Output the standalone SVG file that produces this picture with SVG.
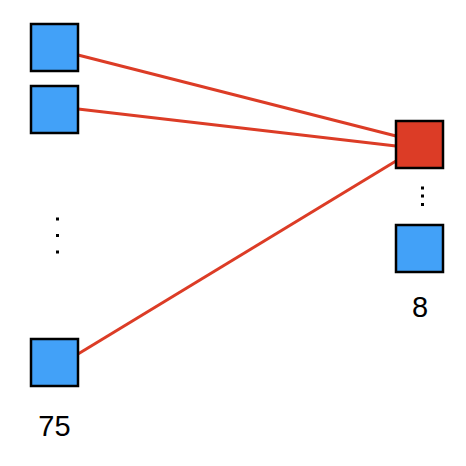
<svg xmlns="http://www.w3.org/2000/svg" width="466" height="466" viewBox="0 0 466 466">
<style>
.node{stroke:#000;stroke-width:2.5}
.blue{fill:#42a1f8}
.red{fill:#dc3c26}
.edge{stroke:#dc3c26;stroke-width:3;fill:none}
.dot{fill:#000}
.lbl{font-family:"Liberation Sans",Arial,sans-serif;font-size:29px;fill:#000;text-anchor:middle}
</style>
<rect width="466" height="466" fill="#fff"/>
<g id="connectors">
<line class="edge" x1="78" y1="55" x2="396" y2="136"/>
<line class="edge" x1="78" y1="109" x2="396" y2="146"/>
<line class="edge" x1="78" y1="354" x2="396" y2="161"/>
</g>
<g id="left1"><rect class="node blue" x="31" y="24" width="47" height="47"/></g>
<g id="left2"><rect class="node blue" x="31" y="86" width="47" height="47"/></g>
<g id="left-dots">
<rect class="dot" x="56" y="217.5" width="3" height="3"/>
<rect class="dot" x="56" y="234" width="3" height="3"/>
<rect class="dot" x="56" y="250.5" width="3" height="3"/>
</g>
<g id="left75"><rect class="node blue" x="31" y="339" width="47" height="47"/></g>
<text class="lbl" x="54.5" y="436">75</text>
<g id="right1"><rect class="node red" x="396" y="121" width="47" height="47"/></g>
<g id="right-dots">
<rect class="dot" x="421" y="186.5" width="3" height="3"/>
<rect class="dot" x="421" y="194.5" width="3" height="3"/>
<rect class="dot" x="421" y="203" width="3" height="3"/>
</g>
<g id="right8"><rect class="node blue" x="396" y="225" width="47" height="47"/></g>
<text class="lbl" x="420" y="317">8</text>
</svg>
